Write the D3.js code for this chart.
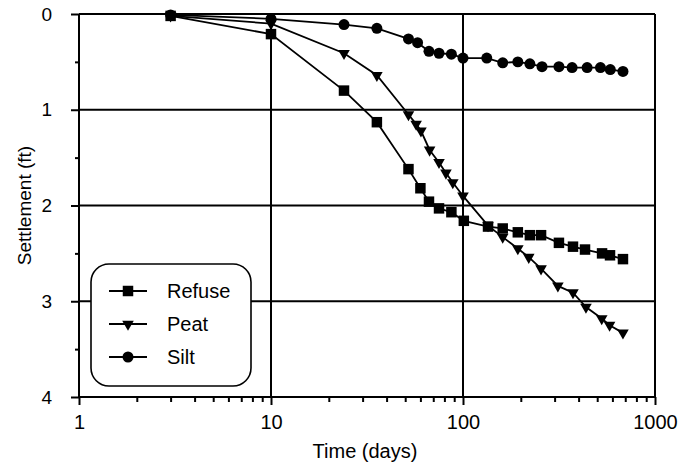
<!DOCTYPE html>
<html>
<head>
<meta charset="utf-8">
<script src="https://cdn.jsdelivr.net/npm/d3@7"></script>
<style>
  body { margin: 0; background: white; }
  text { font-family: "Liberation Sans", Arial, sans-serif; fill: black; }
</style>
</head>
<body>
<script>
// settlement vs time
var refuse_t = [3, 10, 24, 35.6, 52, 60, 66.5, 75, 87, 101, 135, 161, 193, 223, 255, 316, 374, 432, 530, 583, 681];
var refuse_s = [0.02, 0.21, 0.80, 1.13, 1.62, 1.82, 1.96, 2.03, 2.07, 2.16, 2.22, 2.24, 2.28, 2.31, 2.31, 2.39, 2.43, 2.46, 2.50, 2.52, 2.56];

var peat_t = [3, 10, 24, 35.6, 52, 57, 60.4, 67, 75, 81.5, 88.5, 100, 135, 161, 193, 220, 255, 312, 374, 437, 528, 580, 681];
var peat_s = [0.02, 0.10, 0.41, 0.64, 1.05, 1.15, 1.22, 1.42, 1.55, 1.66, 1.76, 1.90, 2.21, 2.33, 2.45, 2.54, 2.66, 2.84, 2.91, 3.06, 3.18, 3.25, 3.33];

var silt_t = [3, 10, 24, 35.6, 52, 58, 66.5, 75, 87, 100, 133, 161, 193, 223, 258, 316, 370, 443, 520, 585, 681];
var silt_s = [0.01, 0.05, 0.11, 0.15, 0.26, 0.30, 0.39, 0.41, 0.42, 0.46, 0.46, 0.51, 0.50, 0.52, 0.55, 0.55, 0.56, 0.56, 0.56, 0.58, 0.60];

var x_ticks = [1, 10, 100, 1000];
var y_ticks = [0, 1, 2, 3, 4];

var width = 696, height = 472;
var margin = {left: 79, right: 41, top: 14, bottom: 75};
var plot_w = width - margin.left - margin.right;
var plot_h = height - margin.top - margin.bottom;
var line_w = 2;

var svg = d3.select('body').append('svg')
  .attr('width', width)
  .attr('height', height);

var x = d3.scaleLog().domain([1, 1000]).range([margin.left, margin.left + plot_w]);
var y = d3.scaleLinear().domain([0, 4]).range([margin.top, margin.top + plot_h]);

// gridlines
svg.append('g')
  .selectAll('line.vgrid')
  .data(x_ticks)
  .enter().append('line')
  .attr('x1', function(d){ return x(d); })
  .attr('x2', function(d){ return x(d); })
  .attr('y1', y(0)).attr('y2', y(4))
  .style('stroke', 'black').style('stroke-width', line_w);

svg.append('g')
  .selectAll('line.hgrid')
  .data(y_ticks)
  .enter().append('line')
  .attr('x1', x(1)).attr('x2', x(1000))
  .attr('y1', function(d){ return y(d); })
  .attr('y2', function(d){ return y(d); })
  .style('stroke', 'black').style('stroke-width', line_w);

// x axis: major + minor ticks
var x_minor = [];
[1, 10, 100].forEach(function(dec){
  for (var k = 2; k <= 9; k++) x_minor.push(dec * k);
});

var x_axis = svg.append('g')
  .attr('transform', 'translate(0,' + y(4) + ')');

x_axis.call(d3.axisBottom(x).tickValues(x_minor).tickSize(5).tickFormat(''))
  .call(function(g){ g.select('.domain').remove(); })
  .selectAll('line').style('stroke-width', line_w);

x_axis.append('g')
  .call(d3.axisBottom(x).tickValues(x_ticks).tickSize(8).tickPadding(10).tickFormat(d3.format('d')))
  .call(function(g){ g.select('.domain').remove(); })
  .call(function(g){
    g.selectAll('line').style('stroke-width', line_w);
    g.selectAll('text')
      .style('font-family', '"Liberation Sans", Arial, sans-serif')
      .style('font-size', '20px');
  });

// y axis
var y_minor = [0.5, 1.5, 2.5, 3.5];
var y_axis = svg.append('g')
  .attr('transform', 'translate(' + x(1) + ',0)');

y_axis.call(d3.axisLeft(y).tickValues(y_minor).tickSize(4).tickFormat(''))
  .call(function(g){ g.select('.domain').remove(); })
  .selectAll('line').style('stroke-width', line_w);

y_axis.append('g')
  .call(d3.axisLeft(y).tickValues(y_ticks).tickSize(8).tickPadding(19).tickFormat(d3.format('d')))
  .call(function(g){ g.select('.domain').remove(); })
  .call(function(g){
    g.selectAll('line').style('stroke-width', line_w);
    g.selectAll('text')
      .style('font-family', '"Liberation Sans", Arial, sans-serif')
      .style('font-size', '19px');
  });

// axis titles
svg.append('text')
  .text('Time (days)')
  .attr('x', 365).attr('y', 458)
  .style('text-anchor', 'middle')
  .style('font-size', '20px');

svg.append('text')
  .text('Settlement (ft)')
  .attr('transform', 'translate(31,' + (y(2)) + ') rotate(-90)')
  .style('text-anchor', 'middle')
  .style('font-size', '19px');

// series
var series = [
  {name: 'Refuse', t: refuse_t, s: refuse_s, sym: d3.symbolSquare, size: 110, rot: 0},
  {name: 'Peat', t: peat_t, s: peat_s, sym: d3.symbolTriangle, size: 58, rot: 180},
  {name: 'Silt', t: silt_t, s: silt_s, sym: d3.symbolCircle, size: 95, rot: 0}
];

var line = d3.line()
  .x(function(d){ return x(d[0]); })
  .y(function(d){ return y(d[1]); });

series.forEach(function(ser){
  var pts = ser.t.map(function(t, i){ return [t, ser.s[i]]; });

  svg.append('path')
    .datum(pts)
    .attr('d', line)
    .style('fill', 'none')
    .style('stroke', 'black')
    .style('stroke-width', 1.8);

  svg.append('g')
    .selectAll('path')
    .data(pts)
    .enter().append('path')
    .attr('d', d3.symbol().type(ser.sym).size(ser.size))
    .attr('transform', function(d){
      return 'translate(' + x(d[0]) + ',' + y(d[1]) + ') rotate(' + ser.rot + ')';
    })
    .style('fill', 'black');
});

// legend
var legend = svg.append('g');

legend.append('rect')
  .attr('x', 91).attr('y', 264)
  .attr('width', 160).attr('height', 122)
  .attr('rx', 18).attr('ry', 18)
  .style('fill', 'white')
  .style('stroke', 'black')
  .style('stroke-width', 1.6);

var legend_rows = legend.selectAll('g.legend-row')
  .data(series)
  .enter().append('g')
  .attr('transform', function(d, i){
    return 'translate(0,' + (291 + i * 33) + ')';
  });

legend_rows.append('line')
  .attr('x1', 109).attr('x2', 147)
  .attr('y1', 0).attr('y2', 0)
  .style('stroke', 'black').style('stroke-width', 1.8);

legend_rows.append('path')
  .attr('d', function(d){ return d3.symbol().type(d.sym).size(d.size)(); })
  .attr('transform', function(d){ return 'translate(128,0) rotate(' + d.rot + ')'; })
  .style('fill', 'black');

legend_rows.append('text')
  .text(function(d){ return d.name; })
  .attr('x', 167).attr('y', 7)
  .style('font-size', '20px');
</script>
</body>
</html>
